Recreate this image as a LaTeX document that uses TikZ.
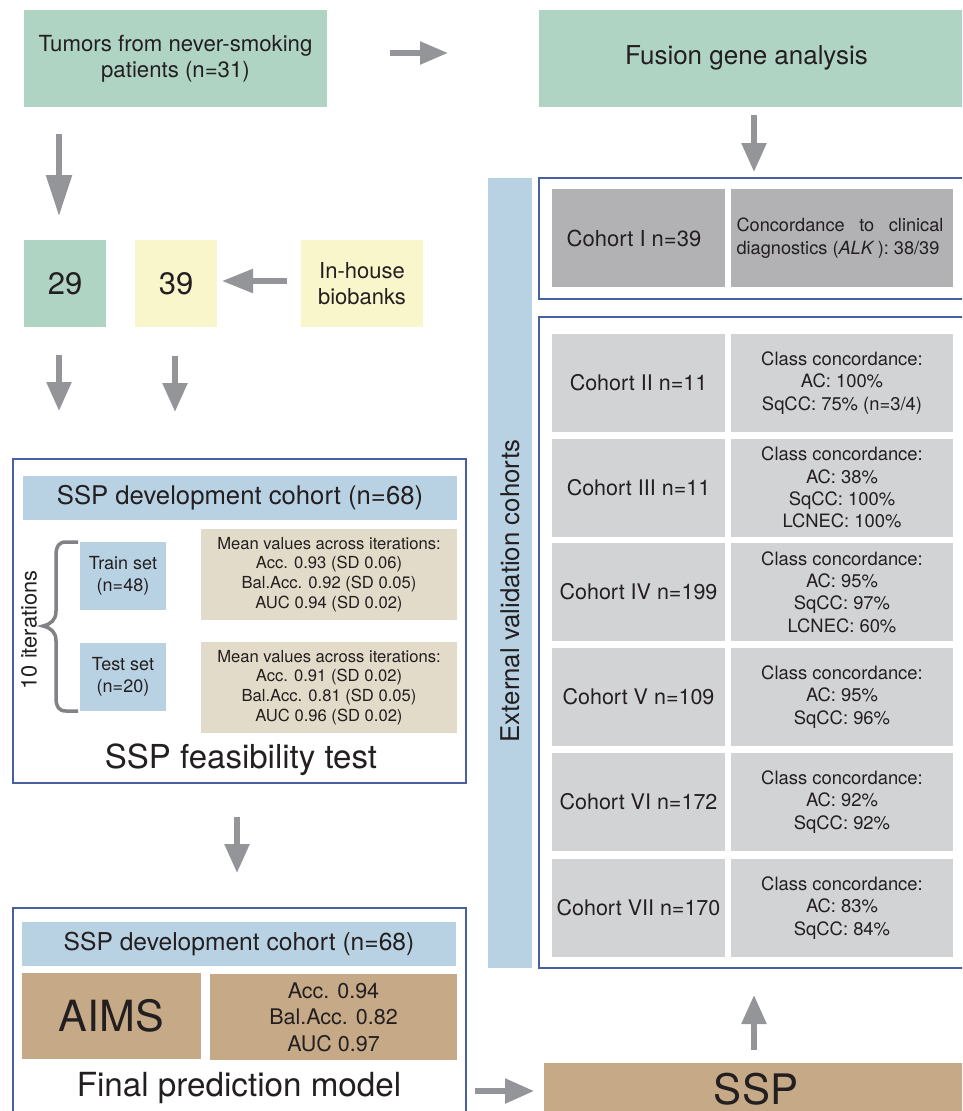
\documentclass[tikz,border=0pt]{standalone}
\usepackage{fontspec}
\setmainfont{TeX Gyre Heros}
\usetikzlibrary{arrows.meta}
\definecolor{cgreen}{RGB}{176,212,196}
\definecolor{cyellow}{RGB}{249,246,204}
\definecolor{cblue}{RGB}{184,210,227}
\definecolor{ctan}{RGB}{226,219,201}
\definecolor{cbrown}{RGB}{198,169,134}
\definecolor{cdgray}{RGB}{178,178,180}
\definecolor{clgray}{RGB}{210,211,213}
\definecolor{carrow}{RGB}{147,149,152}
\definecolor{cframe}{RGB}{72,96,160}
\definecolor{cbrace}{RGB}{128,130,133}
\definecolor{ctxt}{RGB}{35,31,32}
\newcommand\myfs[2]{\fontsize{#1}{#2}\selectfont}
\begin{document}
\begin{tikzpicture}[x=1pt,y=-1pt,
  box/.style={anchor=north west, inner sep=0pt, outer sep=0pt, align=center, text=ctxt},
  frm/.style={anchor=north west, inner sep=0pt, outer sep=0pt, draw=cframe, line width=1.5pt},
  arr/.style={draw=carrow, line width=5.5pt, -{Triangle[length=29pt,width=24pt]}},
  lbl/.style={text=ctxt, inner sep=0pt, align=center}]
\useasboundingbox (0,0) rectangle (962,1111);
\clip (0,0) rectangle (962,1111);

% top row
\node[box, fill=cgreen, minimum width=303pt, minimum height=97pt, font={\myfs{22.2}{26}}] (tum) at (24,10) {Tumors from never-smoking\\patients (n=31)};
\node[box, fill=cgreen, minimum width=440pt, minimum height=97pt] (fus) at (539,10) {};
\node[lbl, font={\myfs{26}{30}}] (fust) at (746.5,58) {Fusion gene analysis};

\node[box, fill=cgreen, minimum width=82pt, minimum height=87pt, font={\myfs{31}{36}}] (n29) at (24,240) {29};
\node[box, fill=cyellow, minimum width=82pt, minimum height=87pt, font={\myfs{31}{36}}] (n39) at (135,240) {39};
\node[box, fill=cyellow, minimum width=122pt, minimum height=87pt, font={\myfs{22}{26.5}}] (bio) at (301,240) {In-house\\biobanks};

% arrow coordinates
\coordinate (a1s) at (59,134); \coordinate (a1e) at (59,216);
\coordinate (a2s) at (390,53); \coordinate (a2e) at (448,53);
\coordinate (a3s) at (754,115); \coordinate (a3e) at (754,172);
\coordinate (a4s) at (287,281); \coordinate (a4e) at (222,281);
\coordinate (a5s) at (59,355); \coordinate (a5e) at (59,411);
\coordinate (a6s) at (175,356); \coordinate (a6e) at (175,412);
\coordinate (a7s) at (237,817); \coordinate (a7e) at (237,873);
\coordinate (a8s) at (754,1050); \coordinate (a8e) at (754,995);
\coordinate (a9s) at (475,1091); \coordinate (a9e) at (534,1091);

\draw[draw=carrow, line width=5.5pt, -{Triangle[length=41pt,width=25pt]}] (a1s) -- (a1e);
\draw[arr, -{Triangle[length=28pt,width=22pt]}] (a2s) -- (a2e);
\draw[arr] (a3s) -- (a3e);
\draw[arr, -{Triangle[length=31pt,width=23pt]}] (a4s) -- (a4e);
\draw[arr] (a5s) -- (a5e);
\draw[arr] (a6s) -- (a6e);
\draw[arr] (a7s) -- (a7e);
\draw[arr] (a8s) -- (a8e);
\draw[arr] (a9s) -- (a9e);

% feasibility frame
\node[frm, minimum width=453pt, minimum height=324pt] (feas) at (13,459) {};
\node[box, fill=cblue, minimum width=434pt, minimum height=44pt, font={\myfs{25.7}{30}}] (devA) at (23,476) {SSP development cohort (n=68)};
\node[box, fill=cblue, minimum width=86pt, minimum height=68pt, font={\myfs{18}{21.7}}] (train) at (80,542) {Train set\\(n=48)};
\node[box, fill=cblue, minimum width=86pt, minimum height=68pt, font={\myfs{18}{21.7}}] (test) at (80,643) {Test set\\(n=20)};
\node[box, fill=ctan, minimum width=256pt, minimum height=91pt, font={\myfs{16.6}{19.8}}] (m1) at (201,529) {Mean values across iterations:\\Acc. 0.93 (SD 0.06)\\Bal.Acc. 0.92 (SD 0.05)\\AUC 0.94 (SD 0.02)};
\node[box, fill=ctan, minimum width=256pt, minimum height=91pt, font={\myfs{16.6}{19.8}}] (m2) at (201,642) {Mean values across iterations:\\Acc. 0.91 (SD 0.02)\\Bal.Acc. 0.81 (SD 0.05)\\AUC 0.96 (SD 0.02)};
\draw[cbrace, line width=3.5pt] (78,542) -- (66,542) .. controls (59,542) and (56,546) .. (56,555) -- (56,611) .. controls (56,620) and (51,624) .. (43,626) .. controls (51,628) and (56,632) .. (56,641) -- (56,698) .. controls (56,707) and (59,711) .. (66,711) -- (78,711);
\node[lbl, rotate=90, font={\myfs{21.8}{24}}] (iter) at (29,630) {10 iterations};
\node[lbl, font={\myfs{33}{36}}] (feast) at (241,760) {SSP feasibility test};

% final model frame
\node[frm, minimum width=453pt, minimum height=240pt] (fin) at (13,908) {};
\node[box, fill=cblue, minimum width=434pt, minimum height=44pt, font={\myfs{24.6}{28}}] (devB) at (22,922) {SSP development cohort (n=68)};
\node[box, fill=cbrown, minimum width=179pt, minimum height=86pt, font={\myfs{43}{48}}] (aims) at (22,973) {AIMS};
\node[box, fill=cbrown, minimum width=247pt, minimum height=86pt, font={\myfs{21.5}{26.5}}] (mB) at (210,974) {Acc. 0.94\\Bal.Acc. 0.82\\AUC 0.97};
\node[lbl, font={\myfs{33.2}{36}}] (fint) at (239,1088) {Final prediction model};

% SSP box
\node[box, fill=cbrown, minimum width=430pt, minimum height=70pt] (ssp) at (544,1063) {};
\node[lbl, font={\myfs{42}{46}}] (sspt) at (756,1089) {SSP};

% external validation bar
\node[box, fill=cblue, minimum width=44pt, minimum height=790pt] (ext) at (488,178) {};
\node[lbl, rotate=90, font={\myfs{25.8}{28}}] (extt) at (510,591) {External validation cohorts};

% cohort I
\node[frm, minimum width=440pt, minimum height=121pt] (fr1) at (539,178) {};
\node[box, fill=cdgray, minimum width=173pt, minimum height=98pt, font={\myfs{22}{26}}] (c1l) at (552,189) {Cohort I n=39\hspace*{9pt}};
\node[box, fill=cdgray, minimum width=222pt, minimum height=98pt] (c1r) at (731,189) {};
\node[text=ctxt, inner sep=0pt, text width=207pt, align=justify, font={\myfs{18.2}{22.7}}] (c1rt) at ([xshift=-2pt]c1r.center) {Concordance to clinical\linebreak diagnostics (\textit{ALK}\,): 38/39};

% cohorts II-VII
\node[frm, minimum width=440pt, minimum height=651pt] (fr2) at (539,317) {};
\tikzset{cl/.style={box, fill=clgray, minimum width=173pt, minimum height=98pt, font={\myfs{21.5}{26}}},
         cr/.style={box, fill=clgray, minimum width=222pt, minimum height=98pt, font={\myfs{18.4}{22.3}}}}
\node[cl] (c2l) at (552,334) {Cohort II n=11};
\node[cr] (c2r) at (731,334) {Class concordance:\\AC: 100\%\\SqCC: 75\% (n=3/4)};
\node[cl] (c3l) at (552,438.5) {Cohort III n=11};
\node[cr] (c3r) at (731,438.5) {Class concordance:\\AC: 38\%\\SqCC: 100\%\\LCNEC: 100\%};
\node[cl] (c4l) at (552,543) {Cohort IV n=199};
\node[cr] (c4r) at (731,543) {Class concordance:\\AC: 95\%\\SqCC: 97\%\\LCNEC: 60\%};
\node[cl] (c5l) at (552,648) {Cohort V n=109};
\node[cr] (c5r) at (731,648) {Class concordance:\\AC: 95\%\\SqCC: 96\%};
\node[cl] (c6l) at (552,753) {Cohort VI n=172};
\node[cr] (c6r) at (731,753) {Class concordance:\\AC: 92\%\\SqCC: 92\%};
\node[cl] (c7l) at (552,859) {Cohort VII n=170};
\node[cr] (c7r) at (731,859) {Class concordance:\\AC: 83\%\\SqCC: 84\%};
\end{tikzpicture}
\end{document}
